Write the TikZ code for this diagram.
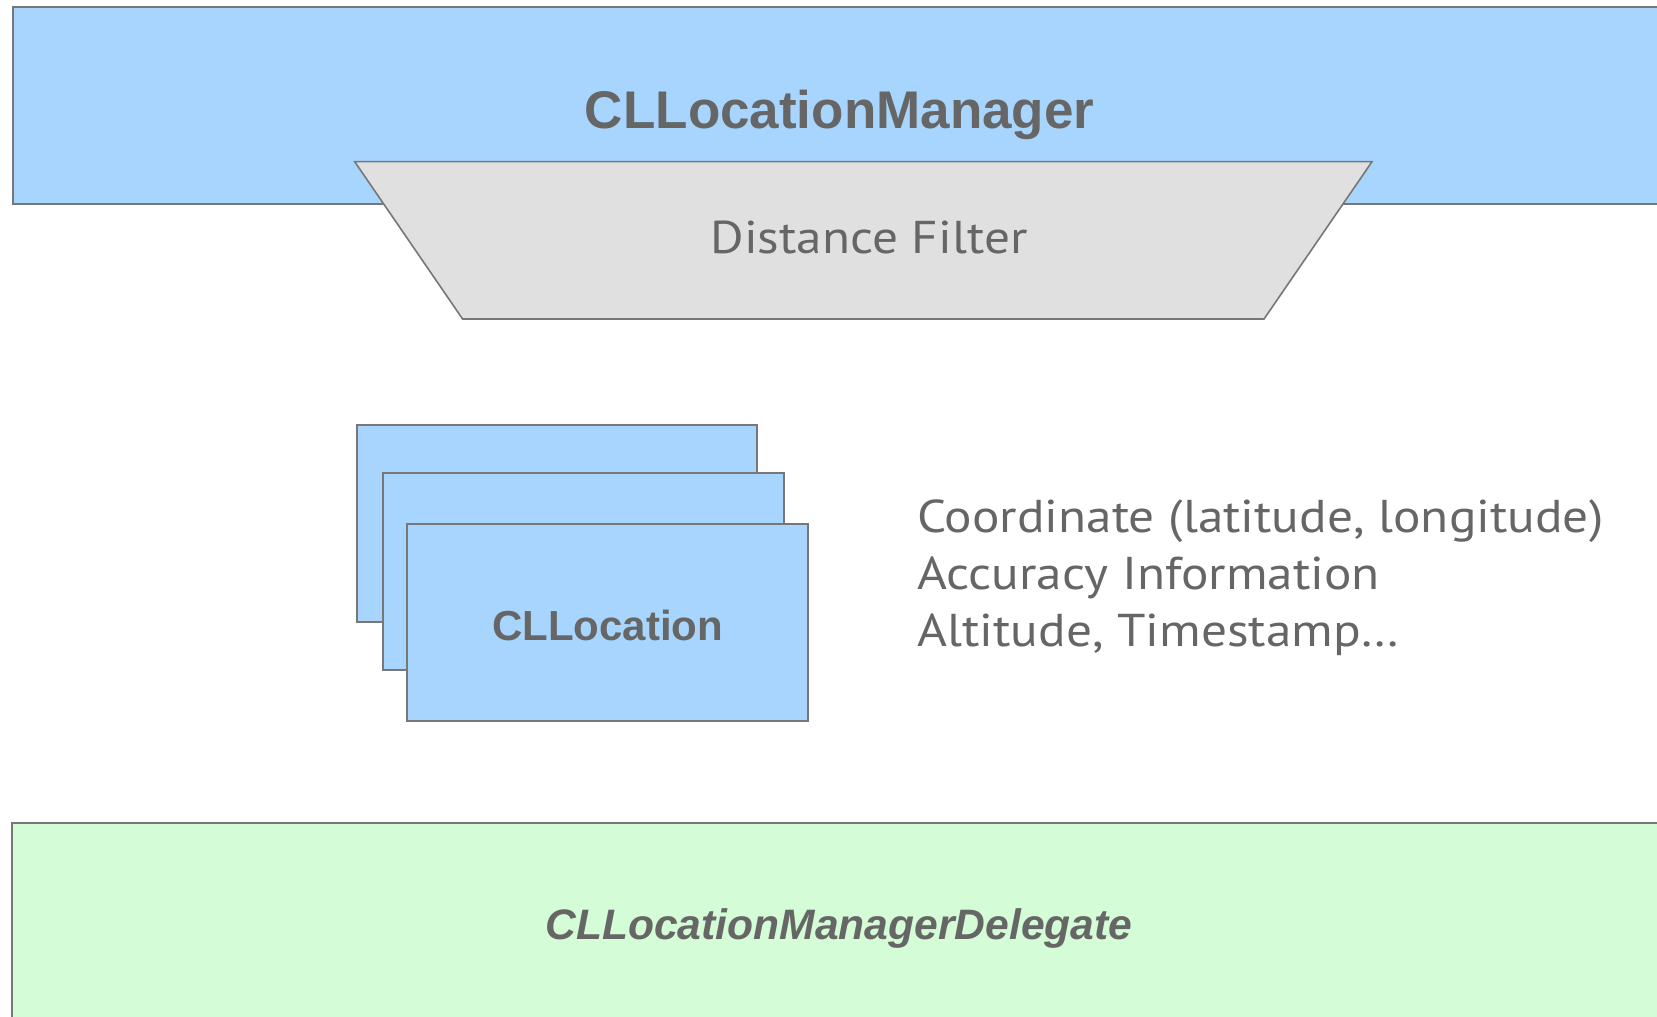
\documentclass[tikz,border=0pt]{standalone}
\usepackage{fontspec}
\setmainfont[FakeStretch=1.115]{PT Sans}
\newfontfamily\headfont{Liberation Sans}
\begin{document}
\begin{tikzpicture}[x=0.5pt,y=-0.5pt,
  edge/.style={draw=linegray,line width=1pt},
  bluebox/.style={edge,fill=mgrblue},
  headtxt/.style={text=txtgray,inner sep=0pt,anchor=base,font=\headfont\bfseries\fontsize{26.5}{30}\selectfont},
  labeltxt/.style={text=txtgray,inner sep=0pt,font=\fontsize{23}{28.75}\selectfont}]
\definecolor{mgrblue}{RGB}{168,213,254}
\definecolor{delgreen}{RGB}{212,252,214}
\definecolor{filtergray}{RGB}{224,224,224}
\definecolor{linegray}{RGB}{119,119,119}
\definecolor{txtgray}{RGB}{102,102,102}
\useasboundingbox (0,0) rectangle (1657,1016);
\clip (0,0) rectangle (1657,1016);
\fill[white] (0,0) rectangle (1657,1016);

% location manager band
\draw[bluebox] (12.5,7) rectangle (1680,204);
\node[headtxt] (manager) at (839.7,128.3) {CLLocationManager};

% distance filter funnel
\draw[edge,line width=0.8pt,fill=filtergray]
  (354.7,161.7) -- (1372,161.7) -- (1264,319) -- (462.6,319) -- cycle;
\node[labeltxt,anchor=base] (filter) at (869,253.3) {Distance Filter};

% stack of CLLocation objects
\draw[bluebox] (356.7,425) rectangle (757,622.3);
\draw[bluebox] (383.3,472.7) rectangle (784,670.3);
\draw[bluebox] (407.3,524) rectangle (808,721.3);
\node[headtxt,font=\headfont\bfseries\fontsize{21}{25}\selectfont] (location) at (607.5,640) {CLLocation};

% properties of a location
\node[labeltxt,anchor=base west] (coord) at (917,532) {Coordinate (latitude, longitude)};
\node[labeltxt,anchor=base west] (accuracy) at (917,589.5) {Accuracy Information};
\node[labeltxt,anchor=base west] (altitude) at (917,646) {Altitude, Timestamp\ldots};

% delegate band
\draw[edge,fill=delgreen] (11.5,822.7) rectangle (1680,1040);
\node[headtxt,font=\headfont\bfseries\itshape\fontsize{21.3}{25}\selectfont] (delegate) at (838.8,939.3) {CLLocationManagerDelegate};
\end{tikzpicture}
\end{document}
